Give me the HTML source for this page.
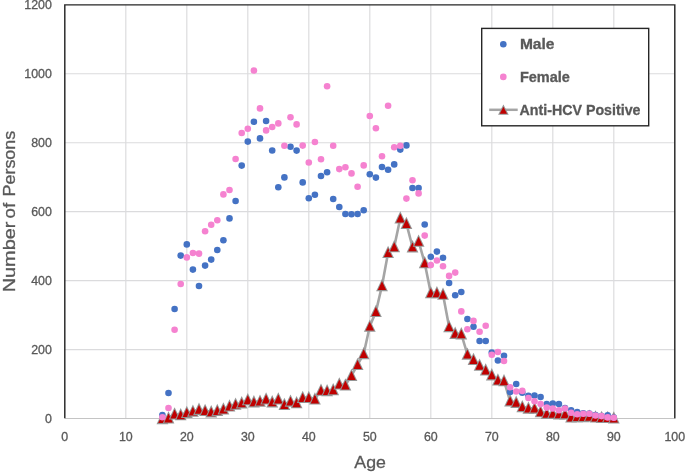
<!DOCTYPE html>
<html><head><meta charset="utf-8"><title>Chart</title>
<style>html,body{margin:0;padding:0;background:#fff}svg{display:block}text{font-family:"Liberation Sans",sans-serif;fill:#595959;stroke:#595959;stroke-width:.3px}</style></head><body>
<svg width="685" height="472" viewBox="0 0 685 472">
<rect width="685" height="472" fill="#fff"/>
<g stroke="#dbdbdd" stroke-width="1.15" fill="none">
<line x1="125.80" y1="4.85" x2="125.80" y2="418.5"/>
<line x1="186.80" y1="4.85" x2="186.80" y2="418.5"/>
<line x1="247.80" y1="4.85" x2="247.80" y2="418.5"/>
<line x1="308.80" y1="4.85" x2="308.80" y2="418.5"/>
<line x1="369.80" y1="4.85" x2="369.80" y2="418.5"/>
<line x1="430.80" y1="4.85" x2="430.80" y2="418.5"/>
<line x1="491.80" y1="4.85" x2="491.80" y2="418.5"/>
<line x1="552.80" y1="4.85" x2="552.80" y2="418.5"/>
<line x1="613.80" y1="4.85" x2="613.80" y2="418.5"/>
<line x1="64.8" y1="349.56" x2="674.8" y2="349.56"/>
<line x1="64.8" y1="280.62" x2="674.8" y2="280.62"/>
<line x1="64.8" y1="211.68" x2="674.8" y2="211.68"/>
<line x1="64.8" y1="142.73" x2="674.8" y2="142.73"/>
<line x1="64.8" y1="73.79" x2="674.8" y2="73.79"/>
</g>
<line x1="64.8" y1="418.5" x2="675.5" y2="418.5" stroke="#c4c4c4" stroke-width="1.1"/>
<polyline points="64.8,418.2 64.8,4.85 674.8,4.85 674.8,418.2" fill="none" stroke="#262626" stroke-width="1.45" stroke-linejoin="miter"/>
<text x="45.00" y="422.60" font-size="12" textLength="6.9" lengthAdjust="spacingAndGlyphs">0</text>
<text x="31.20" y="353.66" font-size="12" textLength="20.7" lengthAdjust="spacingAndGlyphs">200</text>
<text x="31.20" y="284.72" font-size="12" textLength="20.7" lengthAdjust="spacingAndGlyphs">400</text>
<text x="31.20" y="215.78" font-size="12" textLength="20.7" lengthAdjust="spacingAndGlyphs">600</text>
<text x="31.20" y="146.83" font-size="12" textLength="20.7" lengthAdjust="spacingAndGlyphs">800</text>
<text x="24.30" y="77.89" font-size="12" textLength="27.6" lengthAdjust="spacingAndGlyphs">1000</text>
<text x="24.30" y="8.95" font-size="12" textLength="27.6" lengthAdjust="spacingAndGlyphs">1200</text>
<text x="61.35" y="441" font-size="12" textLength="6.9" lengthAdjust="spacingAndGlyphs">0</text>
<text x="118.90" y="441" font-size="12" textLength="13.8" lengthAdjust="spacingAndGlyphs">10</text>
<text x="179.90" y="441" font-size="12" textLength="13.8" lengthAdjust="spacingAndGlyphs">20</text>
<text x="240.90" y="441" font-size="12" textLength="13.8" lengthAdjust="spacingAndGlyphs">30</text>
<text x="301.90" y="441" font-size="12" textLength="13.8" lengthAdjust="spacingAndGlyphs">40</text>
<text x="362.90" y="441" font-size="12" textLength="13.8" lengthAdjust="spacingAndGlyphs">50</text>
<text x="423.90" y="441" font-size="12" textLength="13.8" lengthAdjust="spacingAndGlyphs">60</text>
<text x="484.90" y="441" font-size="12" textLength="13.8" lengthAdjust="spacingAndGlyphs">70</text>
<text x="545.90" y="441" font-size="12" textLength="13.8" lengthAdjust="spacingAndGlyphs">80</text>
<text x="606.90" y="441" font-size="12" textLength="13.8" lengthAdjust="spacingAndGlyphs">90</text>
<text x="664.45" y="441" font-size="12" textLength="20.7" lengthAdjust="spacingAndGlyphs">100</text>
<text transform="translate(14.7 290.4) rotate(-90)" font-size="17"><tspan x="-1.9" textLength="70.7" lengthAdjust="spacingAndGlyphs">Number</tspan> <tspan x="72" textLength="15.5" lengthAdjust="spacingAndGlyphs">of</tspan> <tspan x="93.9" textLength="65.8" lengthAdjust="spacingAndGlyphs">Persons</tspan></text>
<text x="354.3" y="467.7" font-size="17.4" textLength="31.6" lengthAdjust="spacingAndGlyphs">Age</text>
<polyline points="162.4,418.8 168.5,418.1 174.6,414.2 180.7,414.9 186.8,412.7 192.9,411.3 199.0,409.5 205.1,410.6 211.2,412.0 217.3,410.6 223.4,409.1 229.5,406.2 235.6,404.4 241.7,403.0 247.8,399.9 253.9,402.0 260.0,401.3 266.1,399.1 272.2,402.0 278.3,399.1 284.4,404.6 290.5,401.3 296.6,402.9 302.7,397.6 308.8,397.6 314.9,399.1 321.0,390.4 327.1,390.8 333.2,389.9 339.3,384.1 345.4,385.1 351.5,375.6 357.6,364.7 363.7,353.8 369.8,326.3 375.9,311.7 382.0,285.8 388.1,252.7 394.2,246.9 400.3,218.2 406.4,223.7 412.5,247.0 418.6,241.4 424.7,262.9 430.8,292.9 436.9,292.9 443.0,294.4 449.1,326.8 455.2,333.5 461.3,334.0 467.4,354.3 473.5,359.6 479.6,365.4 485.7,370.1 491.8,375.0 497.9,380.1 504.0,380.9 510.1,401.0 516.2,402.5 522.3,406.8 528.4,408.3 534.5,408.3 540.6,411.9 546.7,413.5 552.8,413.5 558.9,414.0 565.0,414.0 571.1,417.2 577.2,416.8 583.3,416.8 589.4,416.4 595.5,417.2 601.6,417.6 607.7,417.6 613.8,418.2" fill="none" stroke="#a5a5a5" stroke-width="2.6" stroke-linejoin="round" stroke-linecap="round"/>
<g fill="#959595">
<path d="M162.4 411.9L168.3 424.2H156.5Z"/><path d="M162.4 414.2L166.6 423.1H158.2Z" fill="#c00000"/>
<path d="M168.5 411.2L174.4 423.5H162.6Z"/><path d="M168.5 413.5L172.7 422.4H164.3Z" fill="#c00000"/>
<path d="M174.6 407.3L180.5 419.6H168.7Z"/><path d="M174.6 409.6L178.8 418.5H170.4Z" fill="#c00000"/>
<path d="M180.7 408.0L186.6 420.3H174.8Z"/><path d="M180.7 410.3L184.9 419.2H176.5Z" fill="#c00000"/>
<path d="M186.8 405.8L192.7 418.1H180.9Z"/><path d="M186.8 408.1L191.0 417.0H182.6Z" fill="#c00000"/>
<path d="M192.9 404.4L198.8 416.7H187.0Z"/><path d="M192.9 406.7L197.1 415.6H188.7Z" fill="#c00000"/>
<path d="M199.0 402.6L204.9 414.9H193.1Z"/><path d="M199.0 404.9L203.2 413.8H194.8Z" fill="#c00000"/>
<path d="M205.1 403.7L211.0 416.0H199.2Z"/><path d="M205.1 406.0L209.3 414.9H200.9Z" fill="#c00000"/>
<path d="M211.2 405.1L217.1 417.4H205.3Z"/><path d="M211.2 407.4L215.4 416.3H207.0Z" fill="#c00000"/>
<path d="M217.3 403.7L223.2 416.0H211.4Z"/><path d="M217.3 406.0L221.5 414.9H213.1Z" fill="#c00000"/>
<path d="M223.4 402.2L229.3 414.5H217.5Z"/><path d="M223.4 404.5L227.6 413.4H219.2Z" fill="#c00000"/>
<path d="M229.5 399.3L235.4 411.6H223.6Z"/><path d="M229.5 401.6L233.7 410.5H225.3Z" fill="#c00000"/>
<path d="M235.6 397.5L241.5 409.8H229.7Z"/><path d="M235.6 399.8L239.8 408.7H231.4Z" fill="#c00000"/>
<path d="M241.7 396.1L247.6 408.4H235.8Z"/><path d="M241.7 398.4L245.9 407.3H237.5Z" fill="#c00000"/>
<path d="M247.8 393.0L253.7 405.3H241.9Z"/><path d="M247.8 395.3L252.0 404.2H243.6Z" fill="#c00000"/>
<path d="M253.9 395.1L259.8 407.4H248.0Z"/><path d="M253.9 397.4L258.1 406.3H249.7Z" fill="#c00000"/>
<path d="M260.0 394.4L265.9 406.7H254.1Z"/><path d="M260.0 396.7L264.2 405.6H255.8Z" fill="#c00000"/>
<path d="M266.1 392.2L272.0 404.5H260.2Z"/><path d="M266.1 394.5L270.3 403.4H261.9Z" fill="#c00000"/>
<path d="M272.2 395.1L278.1 407.4H266.3Z"/><path d="M272.2 397.4L276.4 406.3H268.0Z" fill="#c00000"/>
<path d="M278.3 392.2L284.2 404.5H272.4Z"/><path d="M278.3 394.5L282.5 403.4H274.1Z" fill="#c00000"/>
<path d="M284.4 397.7L290.3 410.0H278.5Z"/><path d="M284.4 400.0L288.6 408.9H280.2Z" fill="#c00000"/>
<path d="M290.5 394.4L296.4 406.7H284.6Z"/><path d="M290.5 396.7L294.7 405.6H286.3Z" fill="#c00000"/>
<path d="M296.6 396.0L302.5 408.3H290.7Z"/><path d="M296.6 398.3L300.8 407.2H292.4Z" fill="#c00000"/>
<path d="M302.7 390.7L308.6 403.0H296.8Z"/><path d="M302.7 393.0L306.9 401.9H298.5Z" fill="#c00000"/>
<path d="M308.8 390.7L314.7 403.0H302.9Z"/><path d="M308.8 393.0L313.0 401.9H304.6Z" fill="#c00000"/>
<path d="M314.9 392.2L320.8 404.5H309.0Z"/><path d="M314.9 394.5L319.1 403.4H310.7Z" fill="#c00000"/>
<path d="M321.0 383.5L326.9 395.8H315.1Z"/><path d="M321.0 385.8L325.2 394.7H316.8Z" fill="#c00000"/>
<path d="M327.1 383.9L333.0 396.2H321.2Z"/><path d="M327.1 386.2L331.3 395.1H322.9Z" fill="#c00000"/>
<path d="M333.2 383.0L339.1 395.3H327.3Z"/><path d="M333.2 385.3L337.4 394.2H329.0Z" fill="#c00000"/>
<path d="M339.3 377.2L345.2 389.5H333.4Z"/><path d="M339.3 379.5L343.5 388.4H335.1Z" fill="#c00000"/>
<path d="M345.4 378.2L351.3 390.5H339.5Z"/><path d="M345.4 380.5L349.6 389.4H341.2Z" fill="#c00000"/>
<path d="M351.5 368.7L357.4 381.0H345.6Z"/><path d="M351.5 371.0L355.7 379.9H347.3Z" fill="#c00000"/>
<path d="M357.6 357.8L363.5 370.1H351.7Z"/><path d="M357.6 360.1L361.8 369.0H353.4Z" fill="#c00000"/>
<path d="M363.7 346.9L369.6 359.2H357.8Z"/><path d="M363.7 349.2L367.9 358.1H359.5Z" fill="#c00000"/>
<path d="M369.8 319.4L375.7 331.7H363.9Z"/><path d="M369.8 321.7L374.0 330.6H365.6Z" fill="#c00000"/>
<path d="M375.9 304.8L381.8 317.1H370.0Z"/><path d="M375.9 307.1L380.1 316.0H371.7Z" fill="#c00000"/>
<path d="M382.0 278.9L387.9 291.2H376.1Z"/><path d="M382.0 281.2L386.2 290.1H377.8Z" fill="#c00000"/>
<path d="M388.1 245.8L394.0 258.1H382.2Z"/><path d="M388.1 248.1L392.3 257.0H383.9Z" fill="#c00000"/>
<path d="M394.2 240.0L400.1 252.3H388.3Z"/><path d="M394.2 242.3L398.4 251.2H390.0Z" fill="#c00000"/>
<path d="M400.3 211.3L406.2 223.6H394.4Z"/><path d="M400.3 213.6L404.5 222.5H396.1Z" fill="#c00000"/>
<path d="M406.4 216.8L412.3 229.1H400.5Z"/><path d="M406.4 219.1L410.6 228.0H402.2Z" fill="#c00000"/>
<path d="M412.5 240.1L418.4 252.4H406.6Z"/><path d="M412.5 242.4L416.7 251.3H408.3Z" fill="#c00000"/>
<path d="M418.6 234.5L424.5 246.8H412.7Z"/><path d="M418.6 236.8L422.8 245.7H414.4Z" fill="#c00000"/>
<path d="M424.7 256.0L430.6 268.3H418.8Z"/><path d="M424.7 258.3L428.9 267.2H420.5Z" fill="#c00000"/>
<path d="M430.8 286.0L436.7 298.3H424.9Z"/><path d="M430.8 288.3L435.0 297.2H426.6Z" fill="#c00000"/>
<path d="M436.9 286.0L442.8 298.3H431.0Z"/><path d="M436.9 288.3L441.1 297.2H432.7Z" fill="#c00000"/>
<path d="M443.0 287.5L448.9 299.8H437.1Z"/><path d="M443.0 289.8L447.2 298.7H438.8Z" fill="#c00000"/>
<path d="M449.1 319.9L455.0 332.2H443.2Z"/><path d="M449.1 322.2L453.3 331.1H444.9Z" fill="#c00000"/>
<path d="M455.2 326.6L461.1 338.9H449.3Z"/><path d="M455.2 328.9L459.4 337.8H451.0Z" fill="#c00000"/>
<path d="M461.3 327.1L467.2 339.4H455.4Z"/><path d="M461.3 329.4L465.5 338.3H457.1Z" fill="#c00000"/>
<path d="M467.4 347.4L473.3 359.7H461.5Z"/><path d="M467.4 349.7L471.6 358.6H463.2Z" fill="#c00000"/>
<path d="M473.5 352.7L479.4 365.0H467.6Z"/><path d="M473.5 355.0L477.7 363.9H469.3Z" fill="#c00000"/>
<path d="M479.6 358.5L485.5 370.8H473.7Z"/><path d="M479.6 360.8L483.8 369.7H475.4Z" fill="#c00000"/>
<path d="M485.7 363.2L491.6 375.5H479.8Z"/><path d="M485.7 365.5L489.9 374.4H481.5Z" fill="#c00000"/>
<path d="M491.8 368.1L497.7 380.4H485.9Z"/><path d="M491.8 370.4L496.0 379.3H487.6Z" fill="#c00000"/>
<path d="M497.9 373.2L503.8 385.5H492.0Z"/><path d="M497.9 375.5L502.1 384.4H493.7Z" fill="#c00000"/>
<path d="M504.0 374.0L509.9 386.3H498.1Z"/><path d="M504.0 376.3L508.2 385.2H499.8Z" fill="#c00000"/>
<path d="M510.1 394.1L516.0 406.4H504.2Z"/><path d="M510.1 396.4L514.3 405.3H505.9Z" fill="#c00000"/>
<path d="M516.2 395.6L522.1 407.9H510.3Z"/><path d="M516.2 397.9L520.4 406.8H512.0Z" fill="#c00000"/>
<path d="M522.3 399.9L528.2 412.2H516.4Z"/><path d="M522.3 402.2L526.5 411.1H518.1Z" fill="#c00000"/>
<path d="M528.4 401.4L534.3 413.7H522.5Z"/><path d="M528.4 403.7L532.6 412.6H524.2Z" fill="#c00000"/>
<path d="M534.5 401.4L540.4 413.7H528.6Z"/><path d="M534.5 403.7L538.7 412.6H530.3Z" fill="#c00000"/>
<path d="M540.6 405.0L546.5 417.3H534.7Z"/><path d="M540.6 407.3L544.8 416.2H536.4Z" fill="#c00000"/>
<path d="M546.7 406.6L552.6 418.9H540.8Z"/><path d="M546.7 408.9L550.9 417.8H542.5Z" fill="#c00000"/>
<path d="M552.8 406.6L558.7 418.9H546.9Z"/><path d="M552.8 408.9L557.0 417.8H548.6Z" fill="#c00000"/>
<path d="M558.9 407.1L564.8 419.4H553.0Z"/><path d="M558.9 409.4L563.1 418.3H554.7Z" fill="#c00000"/>
<path d="M565.0 407.1L570.9 419.4H559.1Z"/><path d="M565.0 409.4L569.2 418.3H560.8Z" fill="#c00000"/>
<path d="M571.1 410.3L577.0 422.6H565.2Z"/><path d="M571.1 412.6L575.3 421.5H566.9Z" fill="#c00000"/>
<path d="M577.2 409.9L583.1 422.2H571.3Z"/><path d="M577.2 412.2L581.4 421.1H573.0Z" fill="#c00000"/>
<path d="M583.3 409.9L589.2 422.2H577.4Z"/><path d="M583.3 412.2L587.5 421.1H579.1Z" fill="#c00000"/>
<path d="M589.4 409.5L595.3 421.8H583.5Z"/><path d="M589.4 411.8L593.6 420.7H585.2Z" fill="#c00000"/>
<path d="M595.5 410.3L601.4 422.6H589.6Z"/><path d="M595.5 412.6L599.7 421.5H591.3Z" fill="#c00000"/>
<path d="M601.6 410.7L607.5 423.0H595.7Z"/><path d="M601.6 413.0L605.8 421.9H597.4Z" fill="#c00000"/>
<path d="M607.7 410.7L613.6 423.0H601.8Z"/><path d="M607.7 413.0L611.9 421.9H603.5Z" fill="#c00000"/>
<path d="M613.8 411.3L619.7 423.6H607.9Z"/><path d="M613.8 413.6L618.0 422.5H609.6Z" fill="#c00000"/>
</g>
<g fill="#4472c4">
<circle cx="162.4" cy="415.0" r="3.3"/>
<circle cx="168.5" cy="393.0" r="3.3"/>
<circle cx="174.6" cy="309.0" r="3.3"/>
<circle cx="180.7" cy="255.6" r="3.3"/>
<circle cx="186.8" cy="244.4" r="3.3"/>
<circle cx="192.9" cy="269.6" r="3.3"/>
<circle cx="199.0" cy="286.0" r="3.3"/>
<circle cx="205.1" cy="265.6" r="3.3"/>
<circle cx="211.2" cy="259.6" r="3.3"/>
<circle cx="217.3" cy="250.0" r="3.3"/>
<circle cx="223.4" cy="240.2" r="3.3"/>
<circle cx="229.5" cy="218.4" r="3.3"/>
<circle cx="235.6" cy="201.0" r="3.3"/>
<circle cx="241.7" cy="165.6" r="3.3"/>
<circle cx="247.8" cy="141.6" r="3.3"/>
<circle cx="253.9" cy="121.8" r="3.3"/>
<circle cx="260.0" cy="138.4" r="3.3"/>
<circle cx="266.1" cy="121.0" r="3.3"/>
<circle cx="272.2" cy="150.5" r="3.3"/>
<circle cx="278.3" cy="187.2" r="3.3"/>
<circle cx="284.4" cy="177.4" r="3.3"/>
<circle cx="290.5" cy="146.8" r="3.3"/>
<circle cx="296.6" cy="150.6" r="3.3"/>
<circle cx="302.7" cy="182.4" r="3.3"/>
<circle cx="308.8" cy="198.2" r="3.3"/>
<circle cx="314.9" cy="194.8" r="3.3"/>
<circle cx="321.0" cy="176.0" r="3.3"/>
<circle cx="327.1" cy="172.2" r="3.3"/>
<circle cx="333.2" cy="199.0" r="3.3"/>
<circle cx="339.3" cy="207.0" r="3.3"/>
<circle cx="345.4" cy="214.0" r="3.3"/>
<circle cx="351.5" cy="214.2" r="3.3"/>
<circle cx="357.6" cy="214.0" r="3.3"/>
<circle cx="363.7" cy="210.2" r="3.3"/>
<circle cx="369.8" cy="174.2" r="3.3"/>
<circle cx="375.9" cy="177.6" r="3.3"/>
<circle cx="382.0" cy="167.0" r="3.3"/>
<circle cx="388.1" cy="169.7" r="3.3"/>
<circle cx="394.2" cy="164.4" r="3.3"/>
<circle cx="400.3" cy="149.6" r="3.3"/>
<circle cx="406.4" cy="145.4" r="3.3"/>
<circle cx="412.5" cy="188.0" r="3.3"/>
<circle cx="418.6" cy="188.0" r="3.3"/>
<circle cx="424.7" cy="224.5" r="3.3"/>
<circle cx="430.8" cy="256.8" r="3.3"/>
<circle cx="436.9" cy="251.6" r="3.3"/>
<circle cx="443.0" cy="257.7" r="3.3"/>
<circle cx="449.1" cy="283.0" r="3.3"/>
<circle cx="455.2" cy="295.2" r="3.3"/>
<circle cx="461.3" cy="292.0" r="3.3"/>
<circle cx="467.4" cy="319.0" r="3.3"/>
<circle cx="473.5" cy="326.7" r="3.3"/>
<circle cx="479.6" cy="341.0" r="3.3"/>
<circle cx="485.7" cy="341.0" r="3.3"/>
<circle cx="491.8" cy="352.6" r="3.3"/>
<circle cx="497.9" cy="360.5" r="3.3"/>
<circle cx="504.0" cy="355.7" r="3.3"/>
<circle cx="510.1" cy="392.0" r="3.3"/>
<circle cx="516.2" cy="384.0" r="3.3"/>
<circle cx="522.3" cy="392.8" r="3.3"/>
<circle cx="528.4" cy="395.8" r="3.3"/>
<circle cx="534.5" cy="395.6" r="3.3"/>
<circle cx="540.6" cy="397.0" r="3.3"/>
<circle cx="546.7" cy="404.0" r="3.3"/>
<circle cx="552.8" cy="403.5" r="3.3"/>
<circle cx="558.9" cy="404.0" r="3.3"/>
<circle cx="565.0" cy="408.0" r="3.3"/>
<circle cx="571.1" cy="410.4" r="3.3"/>
<circle cx="577.2" cy="412.1" r="3.3"/>
<circle cx="583.3" cy="413.3" r="3.3"/>
<circle cx="589.4" cy="413.5" r="3.3"/>
<circle cx="595.5" cy="415.0" r="3.3"/>
<circle cx="601.6" cy="416.0" r="3.3"/>
<circle cx="607.7" cy="415.2" r="3.3"/>
<circle cx="613.8" cy="417.5" r="3.3"/>
</g>
<g fill="#f582d0">
<circle cx="162.4" cy="417.2" r="3.3"/>
<circle cx="168.5" cy="408.0" r="3.3"/>
<circle cx="174.6" cy="329.7" r="3.3"/>
<circle cx="180.7" cy="284.0" r="3.3"/>
<circle cx="186.8" cy="257.4" r="3.3"/>
<circle cx="192.9" cy="253.0" r="3.3"/>
<circle cx="199.0" cy="253.6" r="3.3"/>
<circle cx="205.1" cy="231.3" r="3.3"/>
<circle cx="211.2" cy="224.8" r="3.3"/>
<circle cx="217.3" cy="220.2" r="3.3"/>
<circle cx="223.4" cy="194.4" r="3.3"/>
<circle cx="229.5" cy="190.0" r="3.3"/>
<circle cx="235.6" cy="159.0" r="3.3"/>
<circle cx="241.7" cy="133.0" r="3.3"/>
<circle cx="247.8" cy="128.8" r="3.3"/>
<circle cx="253.9" cy="70.5" r="3.3"/>
<circle cx="260.0" cy="108.4" r="3.3"/>
<circle cx="266.1" cy="130.4" r="3.3"/>
<circle cx="272.2" cy="127.0" r="3.3"/>
<circle cx="278.3" cy="123.4" r="3.3"/>
<circle cx="284.4" cy="145.8" r="3.3"/>
<circle cx="290.5" cy="117.2" r="3.3"/>
<circle cx="296.6" cy="124.4" r="3.3"/>
<circle cx="302.7" cy="145.6" r="3.3"/>
<circle cx="308.8" cy="162.5" r="3.3"/>
<circle cx="314.9" cy="142.0" r="3.3"/>
<circle cx="321.0" cy="159.2" r="3.3"/>
<circle cx="327.1" cy="86.2" r="3.3"/>
<circle cx="333.2" cy="145.8" r="3.3"/>
<circle cx="339.3" cy="169.1" r="3.3"/>
<circle cx="345.4" cy="167.2" r="3.3"/>
<circle cx="351.5" cy="173.4" r="3.3"/>
<circle cx="357.6" cy="186.8" r="3.3"/>
<circle cx="363.7" cy="165.4" r="3.3"/>
<circle cx="369.8" cy="116.0" r="3.3"/>
<circle cx="375.9" cy="128.2" r="3.3"/>
<circle cx="382.0" cy="156.2" r="3.3"/>
<circle cx="388.1" cy="105.8" r="3.3"/>
<circle cx="394.2" cy="147.2" r="3.3"/>
<circle cx="400.3" cy="145.8" r="3.3"/>
<circle cx="406.4" cy="198.6" r="3.3"/>
<circle cx="412.5" cy="180.2" r="3.3"/>
<circle cx="418.6" cy="193.4" r="3.3"/>
<circle cx="424.7" cy="235.6" r="3.3"/>
<circle cx="430.8" cy="265.0" r="3.3"/>
<circle cx="436.9" cy="260.5" r="3.3"/>
<circle cx="443.0" cy="266.2" r="3.3"/>
<circle cx="449.1" cy="275.9" r="3.3"/>
<circle cx="455.2" cy="272.6" r="3.3"/>
<circle cx="461.3" cy="311.4" r="3.3"/>
<circle cx="467.4" cy="329.3" r="3.3"/>
<circle cx="473.5" cy="320.9" r="3.3"/>
<circle cx="479.6" cy="331.7" r="3.3"/>
<circle cx="485.7" cy="325.8" r="3.3"/>
<circle cx="491.8" cy="354.8" r="3.3"/>
<circle cx="497.9" cy="352.0" r="3.3"/>
<circle cx="504.0" cy="361.0" r="3.3"/>
<circle cx="510.1" cy="387.3" r="3.3"/>
<circle cx="516.2" cy="391.5" r="3.3"/>
<circle cx="522.3" cy="390.9" r="3.3"/>
<circle cx="528.4" cy="398.0" r="3.3"/>
<circle cx="534.5" cy="401.3" r="3.3"/>
<circle cx="540.6" cy="404.0" r="3.3"/>
<circle cx="546.7" cy="407.6" r="3.3"/>
<circle cx="552.8" cy="408.5" r="3.3"/>
<circle cx="558.9" cy="410.2" r="3.3"/>
<circle cx="565.0" cy="408.5" r="3.3"/>
<circle cx="571.1" cy="412.7" r="3.3"/>
<circle cx="577.2" cy="414.2" r="3.3"/>
<circle cx="583.3" cy="413.7" r="3.3"/>
<circle cx="589.4" cy="413.7" r="3.3"/>
<circle cx="595.5" cy="415.5" r="3.3"/>
<circle cx="601.6" cy="416.1" r="3.3"/>
<circle cx="607.7" cy="417.4" r="3.3"/>
<circle cx="613.8" cy="417.8" r="3.3"/>
</g>
<rect x="481.7" y="28.4" width="167" height="97.4" fill="#fff" stroke="#262626" stroke-width="1.4"/>
<circle cx="503.3" cy="44.3" r="3.3" fill="#4472c4"/>
<circle cx="503.3" cy="76.9" r="3.3" fill="#f582d0"/>
<line x1="489.2" y1="109.8" x2="517.7" y2="109.8" stroke="#a5a5a5" stroke-width="2.5"/>
<g fill="#959595"><path d="M503.4 104.5L508.7 114.80H498.1Z"/><path d="M503.4 106.80L507.05 113.80H499.75Z" fill="#c00000"/></g>
<g font-weight="bold" font-size="14.8">
<text x="519.9" y="48.9" textLength="34.6" lengthAdjust="spacingAndGlyphs">Male</text>
<text x="519.9" y="81.5" textLength="50" lengthAdjust="spacingAndGlyphs">Female</text>
<text x="519.5" y="114.5" textLength="121" lengthAdjust="spacingAndGlyphs">Anti-HCV Positive</text>
</g>
</svg></body></html>
